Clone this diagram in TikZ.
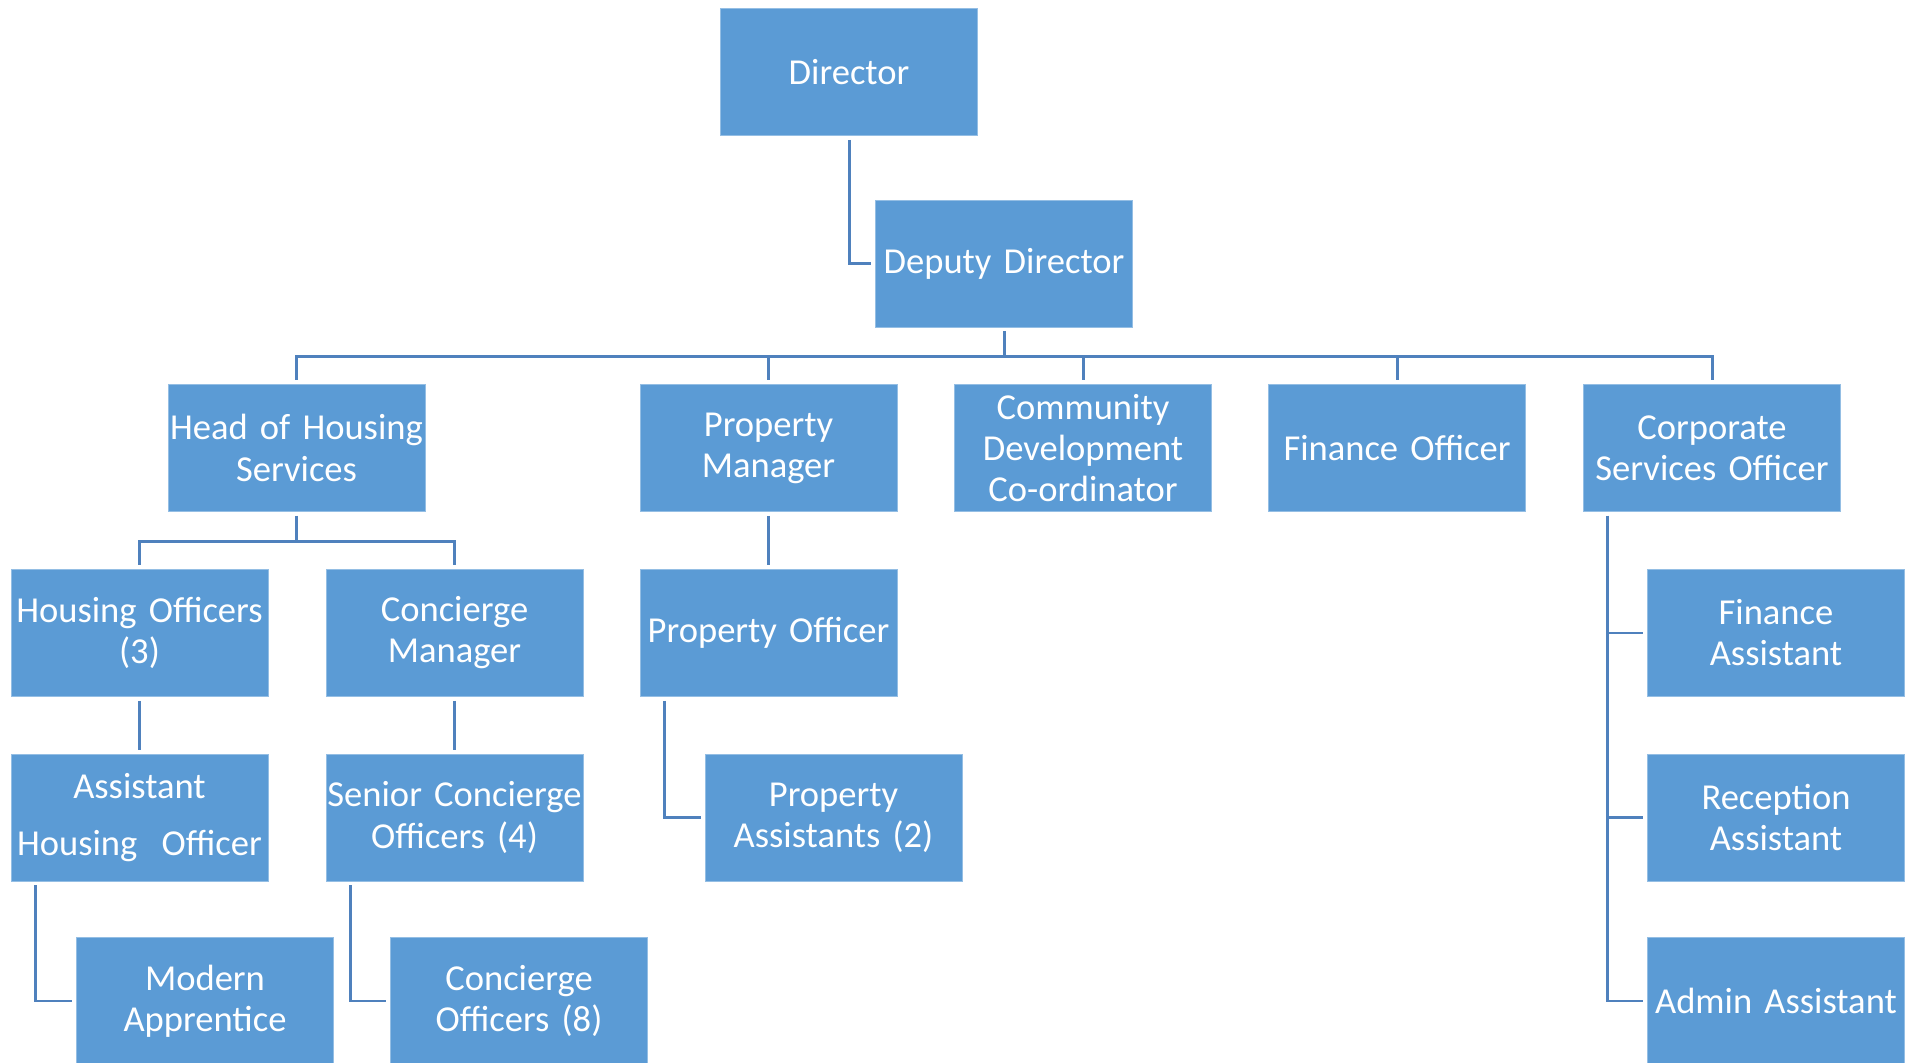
\documentclass[tikz,border=0pt]{standalone}
\usepackage{fontspec}
\setmainfont[WordSpace=0.92]{Carlito}
\usetikzlibrary{positioning}
\definecolor{boxblue}{HTML}{5B9BD5}
\definecolor{lineblue}{HTML}{4F81BD}

\begin{document}
\begin{tikzpicture}[on grid,node distance=1.845cm,
   post/.style={rectangle,fill=boxblue,draw=white!35!boxblue,line width=0.25pt,
     minimum width=2.57cm,minimum height=1.27cm,text width=2.55cm,inner sep=0pt,
     align=center,text=white,font=\fontsize{10.4}{11.7}\selectfont},
   link/.style={draw=lineblue,line width=0.85pt,shorten >=0.04cm,shorten <=0.04cm}]
   \useasboundingbox (0,0) rectangle (19.05,-10.63);

   \node[post] (dir) at (8.49,-0.72) {Director};
   \node[post] (dep) [below right=1.915cm and 1.55cm of dir] {Deputy Director};

   \node[post] (hoh) at (2.965,-4.48) {Head of Housing\\Services};
   \node[post] (pm)  [right=4.72cm of hoh] {Property\\Manager};
   \node[post] (cd)  [right=3.145cm of pm] {Community\\Development\\Co-ordinator};
   \node[post] (fo)  [right=3.14cm of cd]  {Finance Officer};
   \node[post] (cs)  [right=3.15cm of fo]  {Corporate\\Services Officer};

   \node[post] (ho)  [below left=1.85cm and 1.57cm of hoh] {Housing Officers\\(3)};
   \node[post] (cm)  [right=3.15cm of ho] {Concierge\\Manager};
   \node[post] (po)  [below=1.85cm of pm] {Property Officer};
   \node[post] (fa)  [below right=1.85cm and 0.64cm of cs] {Finance\\Assistant};

   \node[post] (aho) [below=of ho] {Assistant\\[0.9ex]Housing\ \ Officer};
   \node[post] (sc)  [below=of cm] {Senior Concierge\\Officers (4)};
   \node[post] (pa)  [below right=1.845cm and 0.65cm of po] {Property\\Assistants (2)};
   \node[post] (ra)  [below=of fa] {Reception\\Assistant};

   \node[post] (ma)  [below right=1.835cm and 0.655cm of aho] {Modern\\Apprentice};
   \node[post] (co)  [below right=1.835cm and 0.645cm of sc] {Concierge\\Officers (8)};
   \node[post] (aa)  [below=1.835cm of ra] {Admin Assistant};

   \draw[link] (dir.south) |- (dep.west);
   \foreach \n in {hoh,pm,cd,fo,cs}
     \draw[link] (dep.south) -- ++(0,-0.29) -| (\n.north);
   \foreach \n in {ho,cm}
     \draw[link] (hoh.south) -- ++(0,-0.295) -| (\n.north);
   \draw[link] (pm) -- (po);
   \draw[link] (ho) -- (aho);
   \draw[link] (cm) -- (sc);
   \draw[link] ([xshift=0.25cm]po.south west) |- (pa.west);
   \draw[link] ([xshift=0.25cm]aho.south west) |- (ma.west);
   \draw[link] ([xshift=0.25cm]sc.south west) |- (co.west);
   \foreach \n in {fa,ra,aa}
     \draw[link] ([xshift=0.245cm]cs.south west) |- (\n.west);
\end{tikzpicture}
\end{document}
